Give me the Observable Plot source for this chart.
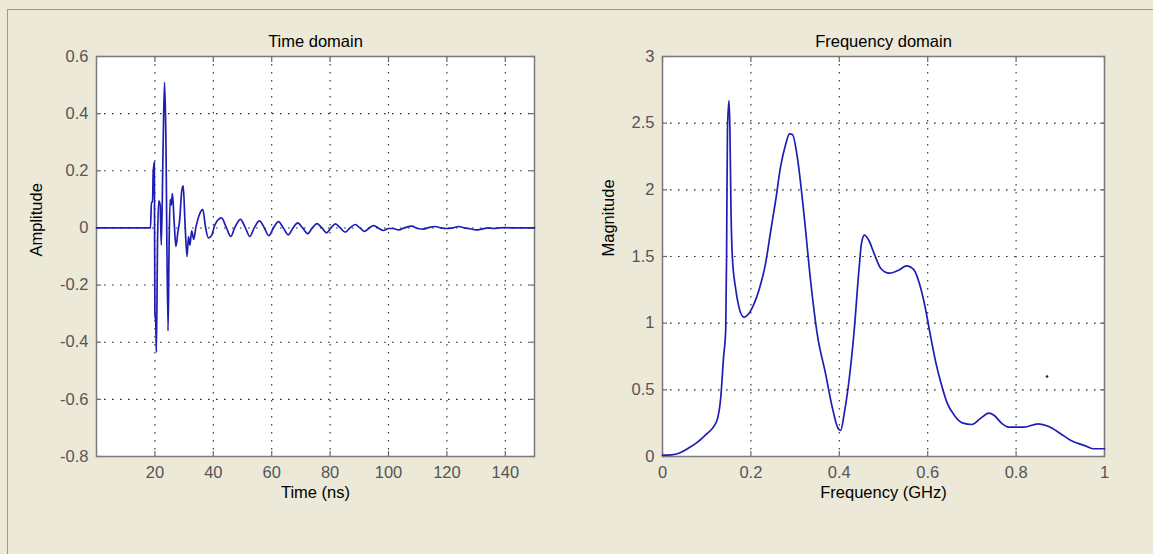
<!DOCTYPE html>
<html><head><meta charset="utf-8">
<script src="https://cdn.jsdelivr.net/npm/d3@7"></script>
<script src="https://cdn.jsdelivr.net/npm/@observablehq/plot@0.6"></script>
<style>
html,body{margin:0;padding:0;background:#ECE9D8;width:1153px;height:554px;overflow:hidden;}
#frame{position:absolute;left:7px;top:9px;width:1146px;height:545px;border-left:1px solid #9a9a9a;border-top:1px solid #9a9a9a;box-sizing:border-box;}
.panel{position:absolute;top:0;}
</style></head><body>
<div id="frame"></div>
<div id="left" class="panel" style="left:0px"></div>
<div id="right" class="panel" style="left:576px"></div>
<script>
// ---- Time domain data ----
const timeNs = [0,18.5,18.8,19.2,19.4,19.8,20.0,20.3,20.5,20.9,21.3,21.8,22.2,22.8,23.3,23.7,24.5,24.8,25.2,25.6,26.0,26.6,27.2,27.8,28.5,29.2,29.7,30.3,31.0,31.5,32.0,32.6,33.3,34.0,35.0,36.4,37.3,38.3,39.5,40.5,42.8,44.5,46.0,47.3,49.3,51.0,52.5,54.0,55.8,57.5,59.0,60.6,62.3,64.0,65.7,67.3,68.9,70.6,72.3,73.9,75.5,77.2,78.8,80.3,81.8,83.5,85.2,86.8,88.6,90.2,91.9,93.4,94.9,96.5,98.2,100,101.5,103.5,105.5,108,110,112,114,116,118,120,122,124,126,128,130,132,134,136,138,140,143,146,150];
const amplitude = [0,0,0.09,0.09,0.19,0.23,-0.30,-0.33,-0.435,-0.05,0.095,0.08,-0.06,0.28,0.51,0.36,-0.36,-0.11,0.10,0.08,0.12,0.02,-0.065,-0.02,0.03,0.13,0.147,0.02,-0.10,-0.03,-0.06,-0.01,-0.04,0.0,0.04,0.065,0.005,-0.035,-0.025,0.01,0.035,0.0,-0.03,0.0,0.03,0.0,-0.03,0.0,0.025,0.0,-0.027,0.0,0.022,0.0,-0.024,0.0,0.018,0.0,-0.02,0.0,0.015,0.0,-0.017,0.0,0.014,0.0,-0.015,0.0,0.012,0.0,-0.012,0.0,0.008,0.0,-0.009,-0.002,-0.002,-0.007,0.0,0.006,-0.002,-0.004,0.002,0.005,0.0,-0.002,0.0,0.005,0.0,-0.003,-0.007,-0.004,0.0,-0.002,0.0,0.001,0.0,0.0,0.0];
const timeTicks = [20,40,60,80,100,120,140];
const amplitudeTicks = [-0.8,-0.6,-0.4,-0.2,0,0.2,0.4,0.6];

// ---- Frequency domain data ----
const freqGHz = [0,0.02,0.04,0.06,0.08,0.1,0.115,0.125,0.132,0.138,0.143,0.145,0.147,0.1505,0.1525,0.155,0.158,0.165,0.173,0.184,0.195,0.207,0.218,0.233,0.245,0.256,0.267,0.279,0.287,0.294,0.305,0.32,0.335,0.35,0.369,0.384,0.396,0.403,0.411,0.422,0.433,0.445,0.45,0.457,0.467,0.479,0.494,0.513,0.536,0.552,0.569,0.581,0.593,0.606,0.618,0.631,0.643,0.66,0.68,0.70,0.721,0.738,0.75,0.767,0.783,0.817,0.85,0.874,0.899,0.924,0.957,0.974,1.0];
const magnitude = [0.01,0.012,0.028,0.065,0.11,0.17,0.22,0.29,0.45,0.74,0.95,1.52,2.46,2.67,2.46,1.84,1.5,1.27,1.12,1.045,1.07,1.145,1.245,1.445,1.695,1.92,2.17,2.345,2.42,2.415,2.245,1.82,1.32,0.92,0.62,0.37,0.22,0.195,0.32,0.57,0.92,1.42,1.595,1.66,1.62,1.52,1.41,1.375,1.40,1.43,1.40,1.30,1.14,0.91,0.71,0.54,0.41,0.31,0.25,0.24,0.29,0.325,0.31,0.25,0.22,0.22,0.245,0.225,0.175,0.12,0.08,0.058,0.058];
const freqTicks = [0,0.2,0.4,0.6,0.8,1];
const magnitudeTicks = [0,0.5,1,1.5,2,2.5,3];
const strayDotF = [0.87];
const strayDotM = [0.6];

const FONT = "'Liberation Sans', Arial, Helvetica, sans-serif";
const FS = 16.5;
const LINE = "#1e1eb4";

function panel(o) {
  const tf = d => String(d);
  const gridStyle = {stroke: "#2a2a2a", strokeOpacity: 1, strokeWidth: 1.1, strokeDasharray: "1.6,6.4"};
  const tickStyle = {tickSize: -5, tickFormat: () => "", label: null, stroke: "#6a6a6a", strokeWidth: 1.2};
  const rows = o.xs.map((x, i) => ({x, y: o.ys[i]}));
  return Plot.plot({
    width: o.width, height: 554,
    marginLeft: o.marginLeft, marginRight: o.marginRight, marginTop: 56, marginBottom: 98,
    style: {background: "transparent", fontFamily: FONT, fontSize: FS + "px"},
    x: {domain: o.xDomain, axis: null},
    y: {domain: o.yDomain, axis: null},
    marks: [
      Plot.frame({fill: "white", stroke: null}),
      Plot.gridX(o.xTicks, gridStyle),
      Plot.gridY(o.yTicks, gridStyle),
      Plot.axisX(o.xTicks, {anchor: "bottom", ...tickStyle}),
      Plot.axisX(o.xTicks, {anchor: "top", ...tickStyle}),
      Plot.axisY(o.yTicks, {anchor: "left", ...tickStyle}),
      Plot.axisY(o.yTicks, {anchor: "right", ...tickStyle}),
      Plot.axisX(o.xTicks, {anchor: "bottom", tickSize: 0, tickPadding: 10, tickFormat: tf, label: null, fill: "#555", fontSize: FS}),
      Plot.axisY(o.yTicks, {anchor: "left", tickSize: 0, tickPadding: 8, tickFormat: tf, label: null, fill: "#555", fontSize: FS}),
      Plot.frame({stroke: "#7a7a7a", strokeWidth: 1.5}),
      Plot.line(rows, {x: "x", y: "y", stroke: LINE, strokeWidth: 1.7, curve: "monotone-x"}),
      ...(o.extra || []),
      Plot.text([o.title], {text: d => d, frameAnchor: "top", dy: -21, fontSize: FS, fill: "black"}),
      Plot.text([o.xLabel], {text: d => d, frameAnchor: "bottom", dy: 41, fontSize: FS, fill: "black"}),
      Plot.text([o.yLabel], {text: d => d, frameAnchor: "left", dx: o.yLabelDx, rotate: -90, fontSize: FS, fill: "black"})
    ]
  });
}

document.getElementById("left").append(panel({
  width: 576, marginLeft: 96, marginRight: 42,
  xs: timeNs, ys: amplitude, xDomain: [0, 150], yDomain: [-0.8, 0.6],
  xTicks: timeTicks, yTicks: amplitudeTicks,
  title: "Time domain", xLabel: "Time (ns)", yLabel: "Amplitude", yLabelDx: -60
}));

document.getElementById("right").append(panel({
  width: 577, marginLeft: 86, marginRight: 49,
  xs: freqGHz, ys: magnitude, xDomain: [0, 1], yDomain: [0, 3],
  xTicks: freqTicks, yTicks: magnitudeTicks,
  title: "Frequency domain", xLabel: "Frequency (GHz)", yLabel: "Magnitude", yLabelDx: -54,
  extra: [Plot.dot(strayDotF.map((f, i) => ({f, m: strayDotM[i]})), {x: "f", y: "m", r: 1.3, fill: "#222", stroke: null})]
}));
</script>
</body></html>
